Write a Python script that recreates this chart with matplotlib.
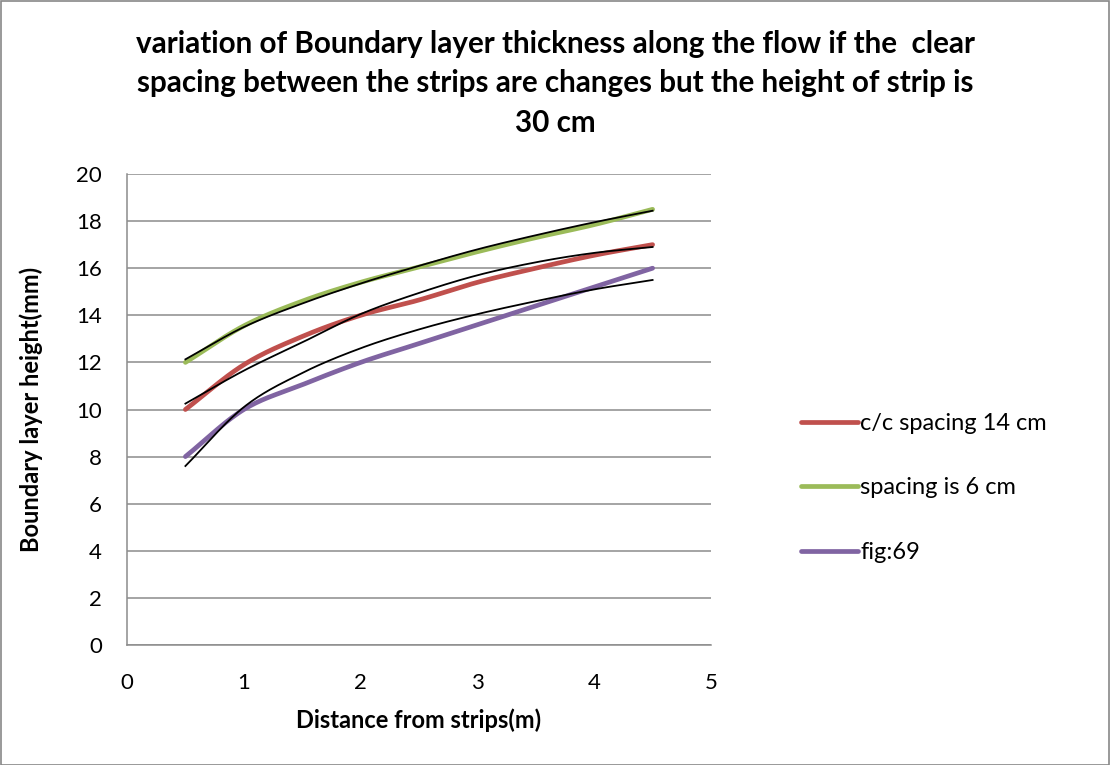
import numpy as np
import matplotlib
matplotlib.use("Agg")
import matplotlib.pyplot as plt
from matplotlib.patches import Rectangle

plt.rcParams['font.family'] = ['Lato', 'DejaVu Sans']

x = [0.5, 1.0, 1.5, 2.0, 2.5, 3.0, 3.5, 4.0, 4.5]
red_cc14 = [10.0, 11.9, 13.1, 14.0, 14.65, 15.4, 16.0, 16.55, 17.0]
green_sp6 = [12.0, 13.55, 14.6, 15.4, 16.05, 16.7, 17.3, 17.85, 18.5]
purple_fig69 = [8.0, 10.0, 11.05, 12.0, 12.8, 13.6, 14.4, 15.2, 16.0]
# black trendlines
red_trend = [10.25, 11.65, 12.85, 14.05, 14.95, 15.7, 16.25, 16.65, 16.9]
green_trend = [12.13, 13.5, 14.5, 15.35, 16.1, 16.8, 17.4, 17.95, 18.44]
purple_trend = [7.6, 10.1, 11.55, 12.6, 13.4, 14.05, 14.6, 15.1, 15.5]
labels = ["c/c spacing 14 cm", "spacing is 6 cm", "fig:69"]
colors = ["#C0504D", "#9BBB59", "#8064A2"]
title = ("variation of Boundary layer thickness along the flow if the  clear\n"
         "spacing between the strips are changes but the height of strip is\n"
         "30 cm")


def smooth(xs, ys, n=30):
    # Catmull-Rom style rendering of Excel "smoothed line"
    xs = np.asarray(xs, float); ys = np.asarray(ys, float)
    P = np.column_stack([xs, ys])
    P = np.vstack([P[0] - (P[1] - P[0]), P, P[-1] + (P[-1] - P[-2])])
    out = []
    for i in range(1, len(P) - 2):
        p0, p1, p2, p3 = P[i - 1], P[i], P[i + 1], P[i + 2]
        c1 = p1 + (p2 - p0) / 6
        c2 = p2 - (p3 - p1) / 6
        t = np.linspace(0, 1, n)[:, None]
        seg = (1 - t) ** 3 * p1 + 3 * (1 - t) ** 2 * t * c1 + 3 * (1 - t) * t ** 2 * c2 + t ** 3 * p2
        out.append(seg if i == 1 else seg[1:])
    out = np.vstack(out)
    return out[:, 0], out[:, 1]


fig = plt.figure(figsize=(11.11, 7.65), dpi=100)
fig.patches.append(Rectangle((0.0005, 0.0005), 0.998, 0.998, transform=fig.transFigure,
                             fill=False, edgecolor="#878787", linewidth=1.2))
ax = fig.add_axes([127 / 1111, 1 - 645 / 765, (711 - 127) / 1111, (645 - 174) / 765])

handles = []
for ys, c, lab in zip([red_cc14, green_sp6, purple_fig69], colors, labels):
    sx, sy = smooth(x, ys)
    h, = ax.plot(sx, sy, color=c, lw=3.4, solid_capstyle='round', label=lab, zorder=3)
    handles.append(h)

for ys in [red_trend, green_trend, purple_trend]:
    sx, sy = smooth(x, ys)
    ax.plot(sx, sy, color="black", lw=1.3, zorder=4)

ax.set_xlim(0, 5)
ax.set_ylim(0, 20)
ax.set_xticks(range(0, 6))
ax.set_yticks(range(0, 21, 2))
ax.yaxis.grid(True, color="#8C8C8C", lw=1.1)
ax.set_axisbelow(True)
for s in ["top", "right"]:
    ax.spines[s].set_visible(False)
for s in ["left", "bottom"]:
    ax.spines[s].set_color("#8C8C8C")
    ax.spines[s].set_linewidth(1.1)
ax.tick_params(axis='both', length=0, labelsize=16, colors="black")
ax.tick_params(axis='y', pad=18)
ax.tick_params(axis='x', pad=20)

ax.set_xlabel("Distance from strips(m)", fontsize=17, fontweight='bold', labelpad=11)
ax.set_ylabel("Boundary layer height(mm)", fontsize=17, fontweight='bold', labelpad=24)

fig.text(0.5, 1 - 83 / 765, title, ha='center', va='center',
         fontsize=21.3, fontweight='bold', linespacing=1.5)

fig.legend(handles=handles, loc='center left', bbox_to_anchor=(801 / 1111, 1 - 488 / 765),
           frameon=False, fontsize=17, handlelength=2.4, handletextpad=0.12,
           labelspacing=1.85, borderaxespad=0, borderpad=0)

fig.savefig("out.png", dpi=100)
